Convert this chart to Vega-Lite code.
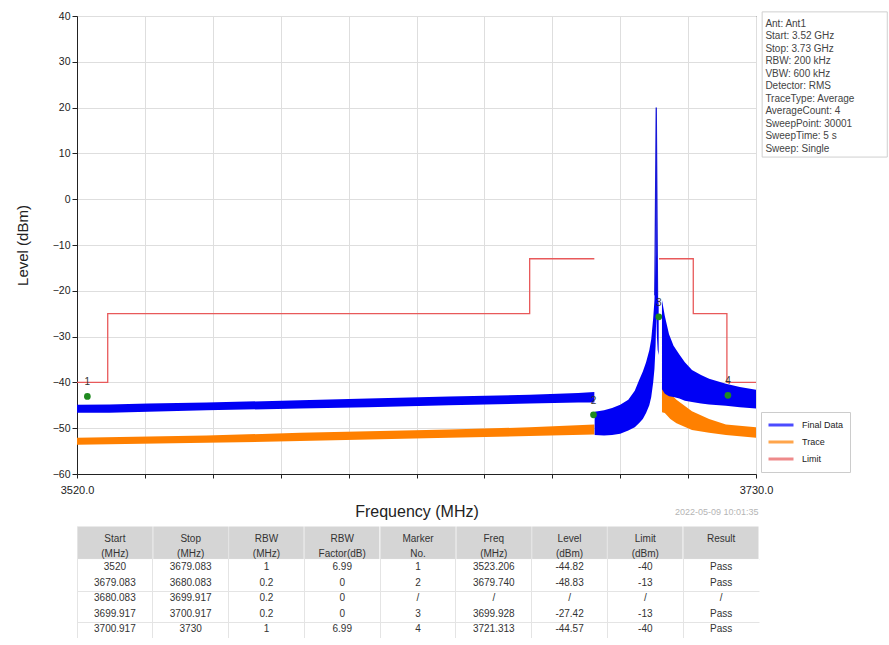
{
  "$schema": "https://vega.github.io/schema/vega-lite/v6.json",
  "background": "white",
  "padding": {"left": 14, "top": 10, "right": 0, "bottom": 0},
  "spacing": 5,
  "config": {
    "font": "Liberation Sans",
    "axis": {"labelColor": "#222", "titleColor": "#222", "titleFontWeight": "normal"},
    "axisY": {"minExtent": 25, "maxExtent": 25}
  },
  "vconcat": [
    {
      "width": 679,
      "height": 458,
      "view": {"stroke": "#222", "strokeWidth": 1},
      "layer": [
        {
          "data": {"values": [
            {"series": "Limit", "seg": "A", "f": 3520, "v": -40},
            {"series": "Limit", "seg": "A", "f": 3529.5, "v": -25},
            {"series": "Limit", "seg": "A", "f": 3660, "v": -13},
            {"series": "Limit", "seg": "A", "f": 3680, "v": -13},
            {"series": "Limit", "seg": "B", "f": 3700, "v": -13},
            {"series": "Limit", "seg": "B", "f": 3710.6, "v": -25},
            {"series": "Limit", "seg": "B", "f": 3721, "v": -40},
            {"series": "Limit", "seg": "B", "f": 3730, "v": -40}
          ]},
          "mark": {"type": "line", "interpolate": "step-after", "strokeWidth": 1.3},
          "encoding": {
            "x": {"field": "f", "type": "quantitative",
              "scale": {"domain": [3520, 3730], "nice": false, "zero": false},
              "axis": {"title": "Frequency (MHz)", "titleFontSize": 16, "titlePadding": 8,
                "values": [3520, 3541, 3562, 3583, 3604, 3625, 3646, 3667, 3688, 3709, 3730],
                "labelExpr": "datum.value == 3520 || datum.value == 3730 ? format(datum.value, '.1f') : ''",
                "labelFontSize": 11, "labelPadding": 6, "tickSize": 4, "tickColor": "#222",
                "domainColor": "#222", "gridColor": "#dedede", "labelFlush": false}},
            "y": {"field": "v", "type": "quantitative",
              "scale": {"domain": [-60, 40], "nice": false, "zero": false},
              "axis": {"title": "Level (dBm)", "titleFontSize": 15, "titlePadding": 22,
                "values": [-60, -50, -40, -30, -20, -10, 0, 10, 20, 30, 40],
                "labelExpr": "format(datum.value, 'd')",
                "labelFontSize": 10.5, "labelPadding": 2, "tickSize": 5, "tickColor": "#222",
                "domainColor": "#222", "gridColor": "#dedede"}},
            "detail": {"field": "seg"},
            "stroke": {"field": "series", "type": "nominal",
              "scale": {"domain": ["Final Data", "Trace", "Limit"], "range": ["#0000ff", "#ff8000", "#e8595a"]},
              "legend": {"title": null, "orient": "none", "legendX": 684, "legendY": 396,
                "symbolType": "stroke", "symbolStrokeWidth": 3, "symbolSize": 625, "clipHeight": 14,
                "rowPadding": 3, "labelFontSize": 9, "labelOffset": 7, "padding": 6,
                "strokeColor": "#cccccc", "fillColor": "white", "symbolOpacity": 0.7, "labelColor": "#222"}}
          }
        },
        {
          "data": {"values": [
            {"seg": "L", "f": 3520, "hi": -52.1, "lo": -53.6},
            {"seg": "L", "f": 3560, "hi": -51.6, "lo": -53.2},
            {"seg": "L", "f": 3589, "hi": -51.0, "lo": -52.8},
            {"seg": "L", "f": 3635, "hi": -50.3, "lo": -52.1},
            {"seg": "L", "f": 3660, "hi": -49.8, "lo": -51.7},
            {"seg": "L", "f": 3680, "hi": -49.2, "lo": -51.4},
            {"seg": "R", "f": 3700.92, "hi": -40.6, "lo": -46.5},
            {"seg": "R", "f": 3701.8, "hi": -41.0, "lo": -46.7},
            {"seg": "R", "f": 3703.5, "hi": -42.5, "lo": -48.0},
            {"seg": "R", "f": 3705.4, "hi": -43.8, "lo": -48.9},
            {"seg": "R", "f": 3710.2, "hi": -46.3, "lo": -50.4},
            {"seg": "R", "f": 3715.5, "hi": -48.0, "lo": -51.0},
            {"seg": "R", "f": 3720.7, "hi": -49.2, "lo": -51.5},
            {"seg": "R", "f": 3730, "hi": -49.8, "lo": -52.1}
          ]},
          "mark": {"type": "area", "color": "#ff8000", "opacity": 1},
          "encoding": {
            "x": {"field": "f", "type": "quantitative"},
            "y": {"field": "hi", "type": "quantitative"},
            "y2": {"field": "lo"},
            "detail": {"field": "seg"}
          }
        },
        {
          "data": {"values": [
            {"seg": "L", "f": 3520, "hi": -44.9, "lo": -46.6},
            {"seg": "L", "f": 3530, "hi": -44.8, "lo": -46.6},
            {"seg": "L", "f": 3542, "hi": -44.6, "lo": -46.4},
            {"seg": "L", "f": 3560, "hi": -44.4, "lo": -46.1},
            {"seg": "L", "f": 3589, "hi": -43.9, "lo": -45.7},
            {"seg": "L", "f": 3610, "hi": -43.5, "lo": -45.4},
            {"seg": "L", "f": 3635, "hi": -43.1, "lo": -45.0},
            {"seg": "L", "f": 3660, "hi": -42.7, "lo": -44.6},
            {"seg": "L", "f": 3675, "hi": -42.3, "lo": -44.4},
            {"seg": "L", "f": 3680, "hi": -42.1, "lo": -44.4},
            {"seg": "M", "f": 3680.1, "hi": -46.4, "lo": -51.5},
            {"seg": "M", "f": 3683, "hi": -46.1, "lo": -51.6},
            {"seg": "M", "f": 3685.5, "hi": -45.6, "lo": -51.5},
            {"seg": "M", "f": 3688, "hi": -44.9, "lo": -51.2},
            {"seg": "M", "f": 3690.5, "hi": -43.8, "lo": -50.5},
            {"seg": "M", "f": 3692.5, "hi": -41.8, "lo": -49.8},
            {"seg": "M", "f": 3693.8, "hi": -39.6, "lo": -48.9},
            {"seg": "M", "f": 3695, "hi": -37.6, "lo": -48.0},
            {"seg": "M", "f": 3696, "hi": -35.6, "lo": -46.7},
            {"seg": "M", "f": 3697, "hi": -33.0, "lo": -45.0},
            {"seg": "M", "f": 3697.6, "hi": -30.6, "lo": -43.2},
            {"seg": "M", "f": 3698.2, "hi": -26.0, "lo": -40.0},
            {"seg": "M", "f": 3698.6, "hi": -22.0, "lo": -37.0},
            {"seg": "M", "f": 3698.95, "hi": -12.0, "lo": -32.0},
            {"seg": "M", "f": 3699.15, "hi": 20.0, "lo": -25.0},
            {"seg": "M", "f": 3699.35, "hi": -12.0, "lo": -30.0},
            {"seg": "M", "f": 3699.6, "hi": -20.0, "lo": -33.0},
            {"seg": "M", "f": 3699.9, "hi": -23.0, "lo": -34.0},
            {"seg": "R", "f": 3700.92, "hi": -22.0, "lo": -41.5},
            {"seg": "R", "f": 3701.8, "hi": -25.5, "lo": -42.5},
            {"seg": "R", "f": 3703.1, "hi": -29.5, "lo": -43.0},
            {"seg": "R", "f": 3704.5, "hi": -32.0, "lo": -43.2},
            {"seg": "R", "f": 3706.3, "hi": -33.9, "lo": -43.5},
            {"seg": "R", "f": 3708, "hi": -35.6, "lo": -44.0},
            {"seg": "R", "f": 3710.2, "hi": -37.3, "lo": -44.3},
            {"seg": "R", "f": 3713, "hi": -38.4, "lo": -44.6},
            {"seg": "R", "f": 3715.5, "hi": -39.2, "lo": -44.8},
            {"seg": "R", "f": 3720.7, "hi": -40.3, "lo": -45.1},
            {"seg": "R", "f": 3725, "hi": -41.0, "lo": -45.4},
            {"seg": "R", "f": 3730, "hi": -41.6, "lo": -45.7}
          ]},
          "mark": {"type": "area", "color": "#0000f5", "opacity": 1},
          "encoding": {
            "x": {"field": "f", "type": "quantitative"},
            "y": {"field": "hi", "type": "quantitative"},
            "y2": {"field": "lo"},
            "detail": {"field": "seg"}
          }
        },
        {
          "data": {"values": [
            {"f": 3698.7, "v": -21},
            {"f": 3699.15, "v": 20},
            {"f": 3699.55, "v": -21}
          ]},
          "mark": {"type": "line", "color": "#1818d8", "strokeWidth": 1.3},
          "encoding": {
            "x": {"field": "f", "type": "quantitative"},
            "y": {"field": "v", "type": "quantitative"}
          }
        },
        {
          "data": {"name": "markers", "values": [
            {"m": "1", "f": 3523.206, "v": -44.82},
            {"m": "2", "f": 3679.74, "v": -48.83},
            {"m": "3", "f": 3699.928, "v": -27.42},
            {"m": "4", "f": 3721.313, "v": -44.57}
          ]},
          "layer": [
            {
              "mark": {"type": "point", "filled": true, "color": "#1f8a1f", "size": 45, "opacity": 1, "yOffset": -8},
              "encoding": {
                "x": {"field": "f", "type": "quantitative"},
                "y": {"field": "v", "type": "quantitative"}
              }
            },
            {
              "mark": {"type": "text", "fontSize": 10, "color": "#333", "dy": -22},
              "encoding": {
                "x": {"field": "f", "type": "quantitative"},
                "y": {"field": "v", "type": "quantitative"},
                "text": {"field": "m"}
              }
            }
          ]
        },
        {
          "data": {"values": [{"box": 1}]},
          "mark": {"type": "rect", "fillOpacity": 0, "stroke": "#cfcfcf", "strokeWidth": 1},
          "encoding": {
            "x": {"datum": 3731.9, "type": "quantitative"},
            "x2": {"datum": 3770.6},
            "y": {"datum": 40.9, "type": "quantitative"},
            "y2": {"datum": 9.2}
          }
        },
        {
          "data": {"values": [{"info": "Ant: Ant1\nStart: 3.52 GHz\nStop: 3.73 GHz\nRBW: 200 kHz\nVBW: 600 kHz\nDetector: RMS\nTraceType: Average\nAverageCount: 4\nSweepPoint: 30001\nSweepTime: 5 s\nSweep: Single"}]},
          "mark": {"type": "text", "align": "left", "baseline": "top", "fontSize": 10, "lineHeight": 12.5, "color": "#444", "lineBreak": "\n"},
          "encoding": {
            "x": {"datum": 3732.9, "type": "quantitative"},
            "y": {"datum": 39.4, "type": "quantitative"},
            "text": {"field": "info"}
          }
        },
        {
          "data": {"values": [{"ts": "2022-05-09 10:01:35"}]},
          "mark": {"type": "text", "align": "right", "baseline": "middle", "fontSize": 9, "color": "#b5b5b5", "dy": 38},
          "encoding": {
            "x": {"datum": 3730.8, "type": "quantitative"},
            "y": {"datum": -60, "type": "quantitative"},
            "text": {"field": "ts"}
          }
        }
      ]
    },
    {
      "width": 682,
      "height": 112,
      "view": {"stroke": null},
      "layer": [
        {
          "data": {"name": "header", "values": [
            {"key": "Start", "header": "Start\n(MHz)"},
            {"key": "Stop", "header": "Stop\n(MHz)"},
            {"key": "RBW", "header": "RBW\n(MHz)"},
            {"key": "Factor", "header": "RBW\nFactor(dB)"},
            {"key": "Marker", "header": "Marker\nNo."},
            {"key": "Freq", "header": "Freq\n(MHz)"},
            {"key": "Level", "header": "Level\n(dBm)"},
            {"key": "Limit", "header": "Limit\n(dBm)"},
            {"key": "Result", "header": "Result"}
          ]},
          "mark": {"type": "rect", "fill": "#d5d5d5", "stroke": "white", "strokeWidth": 1},
          "encoding": {
            "x": {"field": "key", "type": "nominal",
              "scale": {"domain": ["Start", "Stop", "RBW", "Factor", "Marker", "Freq", "Level", "Limit", "Result"], "paddingInner": 0, "paddingOuter": 0},
              "axis": {"orient": "top", "title": null, "labels": false, "ticks": false, "domain": false, "grid": true, "bandPosition": 0, "gridColor": "#e4e4e4"}},
            "y": {"datum": -1.65, "type": "quantitative",
              "scale": {"domain": [-1.65, 5.55], "reverse": true, "nice": false, "zero": false},
              "axis": {"orient": "left", "values": [0.5, 1.5, 2.5, 3.5, 4.5, 5.5], "grid": true, "gridColor": "#e4e4e4",
                "labels": false, "ticks": false, "domain": false, "title": "Level (dBm)", "titleFontSize": 15,
                "titlePadding": 22, "titleOpacity": 0}},
            "y2": {"datum": 0.5}
          }
        },
        {
          "data": {"name": "header"},
          "mark": {"type": "text", "fontSize": 10, "color": "#333", "lineBreak": "\n", "baseline": "middle", "lineHeight": 15},
          "encoding": {
            "x": {"field": "key", "type": "nominal"},
            "y": {"datum": -0.83, "type": "quantitative"},
            "text": {"field": "header"}
          }
        },
        {
          "data": {"values": [
            {"row": 1, "Start": "3520", "Stop": "3679.083", "RBW": "1", "Factor": "6.99", "Marker": "1", "Freq": "3523.206", "Level": "-44.82", "Limit": "-40", "Result": "Pass"},
            {"row": 2, "Start": "3679.083", "Stop": "3680.083", "RBW": "0.2", "Factor": "0", "Marker": "2", "Freq": "3679.740", "Level": "-48.83", "Limit": "-13", "Result": "Pass"},
            {"row": 3, "Start": "3680.083", "Stop": "3699.917", "RBW": "0.2", "Factor": "0", "Marker": "/", "Freq": "/", "Level": "/", "Limit": "/", "Result": "/"},
            {"row": 4, "Start": "3699.917", "Stop": "3700.917", "RBW": "0.2", "Factor": "0", "Marker": "3", "Freq": "3699.928", "Level": "-27.42", "Limit": "-13", "Result": "Pass"},
            {"row": 5, "Start": "3700.917", "Stop": "3730", "RBW": "1", "Factor": "6.99", "Marker": "4", "Freq": "3721.313", "Level": "-44.57", "Limit": "-40", "Result": "Pass"}
          ]},
          "transform": [{"fold": ["Start", "Stop", "RBW", "Factor", "Marker", "Freq", "Level", "Limit", "Result"]}],
          "mark": {"type": "text", "fontSize": 10, "color": "#333", "baseline": "middle"},
          "encoding": {
            "x": {"field": "key", "type": "nominal"},
            "y": {"field": "row", "type": "quantitative"},
            "text": {"field": "value"}
          }
        }
      ]
    }
  ]
}
